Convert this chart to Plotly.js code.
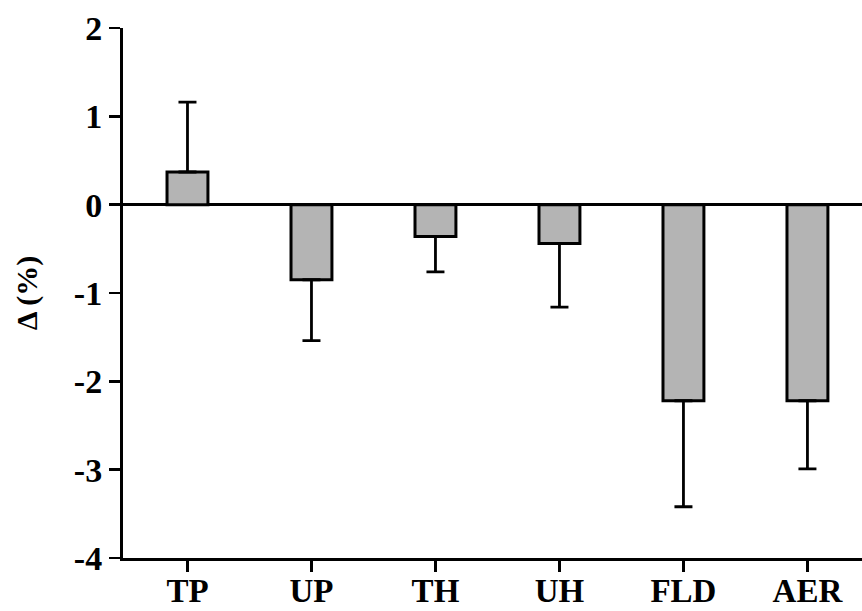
<!DOCTYPE html>
<html>
<head>
<meta charset="utf-8">
<script src="https://cdn.plot.ly/plotly-3.0.1.min.js"></script>
<style>html,body{margin:0;padding:0;background:#fff;}#chart{width:862px;height:611px;}</style>
</head>
<body>
<div id="chart"></div>
<script>
const categories = ["TP", "UP", "TH", "UH", "FLD", "AER"];
const deltaValues = [0.37, -0.85, -0.36, -0.44, -2.22, -2.22];
const errorUp = [0.79, 0, 0, 0, 0, 0];
const errorDown = [0, 0.69, 0.40, 0.72, 1.20, 0.77];
const yTicks = [-4, -3, -2, -1, 0, 1, 2];

const serif = "Liberation Serif";

const trace = {
  type: "bar",
  x: categories,
  y: deltaValues,
  width: 0.33,
  marker: { color: "#b4b4b4", line: { color: "#000", width: 3 } },
  error_y: {
    type: "data",
    symmetric: false,
    array: errorUp,
    arrayminus: errorDown,
    color: "#000",
    thickness: 2.8,
    width: 9
  },
  hoverinfo: "none"
};

const layout = {
  width: 862,
  height: 611,
  margin: { l: 123, r: 0, t: 28, b: 53 },
  paper_bgcolor: "#fff",
  plot_bgcolor: "#fff",
  showlegend: false,
  font: { family: serif, color: "#000" },
  xaxis: {
    type: "category",
    range: [-0.52, 5.44],
    showline: true,
    linecolor: "#000",
    linewidth: 3,
    ticks: "outside",
    ticklen: 11,
    tickwidth: 2.5,
    tickcolor: "#000",
    ticklabelstandoff: -10,
    showgrid: false,
    zeroline: false,
    tickfont: { family: serif, size: 33, weight: "bold", color: "#000" }
  },
  yaxis: {
    range: [-4, 2],
    tickvals: yTicks,
    ticktext: yTicks.map(String),
    showline: true,
    linecolor: "#000",
    linewidth: 3,
    ticks: "outside",
    ticklen: 11,
    tickwidth: 2.5,
    tickcolor: "#000",
    showgrid: false,
    zeroline: true,
    zerolinecolor: "#000",
    zerolinewidth: 3,
    tickfont: { family: serif, size: 34, weight: "bold", color: "#000" },
    title: { text: "Δ (%)", font: { family: serif, size: 30, weight: "bold", color: "#000" }, standoff: 28 }
  }
};

Plotly.newPlot("chart", [trace], layout, { displayModeBar: false, staticPlot: true });
</script>
</body>
</html>
